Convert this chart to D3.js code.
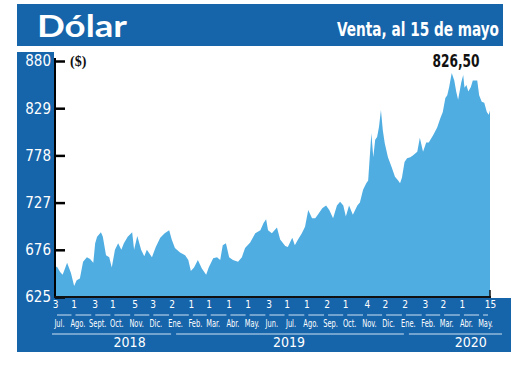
<!DOCTYPE html>
<html>
<head>
<meta charset="utf-8">
<script src="https://cdn.jsdelivr.net/npm/d3@7"></script>
<style>
  body { margin: 0; background: #fff; }
  svg { display: block; }
  text { font-family: "Liberation Sans Narrow", "DejaVu Sans Condensed", sans-serif; }
</style>
</head>
<body>
<div id="chart"></div>
<script>
const dates = [
  "2018-07-03","2018-07-06","2018-07-11","2018-07-15","2018-07-22","2018-07-23","2018-07-28",
  "2018-08-02","2018-08-06","2018-08-11","2018-08-16","2018-08-22","2018-08-27","2018-09-01",
  "2018-09-04","2018-09-07","2018-09-13","2018-09-16","2018-09-21","2018-09-26","2018-09-30",
  "2018-10-05","2018-10-10","2018-10-15","2018-10-19","2018-10-25","2018-11-01","2018-11-04",
  "2018-11-09","2018-11-15","2018-11-20","2018-11-24","2018-12-02","2018-12-08","2018-12-15",
  "2018-12-22","2018-12-29","2019-01-02","2019-01-07","2019-01-15","2019-01-23","2019-01-28",
  "2019-02-01","2019-02-06","2019-02-12","2019-02-18","2019-02-25","2019-03-01","2019-03-08",
  "2019-03-14","2019-03-19","2019-03-23","2019-03-28","2019-04-02","2019-04-08","2019-04-16",
  "2019-04-22","2019-04-27","2019-05-05","2019-05-13","2019-05-21","2019-05-26","2019-05-30",
  "2019-06-02","2019-06-08","2019-06-16","2019-06-21","2019-06-29","2019-07-03","2019-07-10",
  "2019-07-14","2019-07-19","2019-07-25","2019-07-30","2019-08-04","2019-08-10","2019-08-15",
  "2019-08-19","2019-08-26","2019-09-01","2019-09-06","2019-09-12","2019-09-18","2019-09-23",
  "2019-09-28","2019-10-02","2019-10-07","2019-10-13","2019-10-20","2019-10-24","2019-10-29",
  "2019-11-03","2019-11-06","2019-11-11","2019-11-14","2019-11-17","2019-11-20","2019-11-23",
  "2019-11-26","2019-11-29","2019-12-02","2019-12-07","2019-12-13","2019-12-18","2019-12-23",
  "2019-12-26","2019-12-29","2020-01-02","2020-01-06","2020-01-11","2020-01-15","2020-01-22",
  "2020-01-26","2020-01-31","2020-02-05","2020-02-09","2020-02-16","2020-02-22","2020-02-27",
  "2020-03-02","2020-03-06","2020-03-09","2020-03-12","2020-03-16","2020-03-20","2020-03-23",
  "2020-03-26","2020-03-31","2020-04-03","2020-04-05","2020-04-08","2020-04-11","2020-04-15",
  "2020-04-18","2020-04-25","2020-04-28","2020-05-02","2020-05-06","2020-05-10","2020-05-13",
  "2020-05-15"
];
const values = [
  656,658,652,649,662,660,651,
  637,643,645,663,668,666,662,
  683,690,695,690,670,668,657,
  676,683,676,683,690,695,676,
  691,676,669,676,668,679,689,
  694,697,687,678,673,670,665,
  653,657,665,656,649,657,667,
  668,665,681,683,668,665,663,
  668,678,684,694,697,705,709,
  697,694,700,687,680,679,689,
  681,687,694,701,719,710,710,
  714,721,724,719,710,724,728,
  724,712,724,714,724,727,741,
  748,751,802,776,795,798,809,
  827,805,791,776,765,755,751,
  748,754,771,775,776,778,782,
  797,782,792,792,800,808,818,
  825,840,843,852,867,859,847,
  838,857,865,851,854,847,852,
  859,859,843,836,835,825,822,
  826.5
];
const yTicks = [625, 676, 727, 778, 829, 880];
const dayTickDates = [
  "2018-07-03","2018-08-01","2018-09-03","2018-10-01","2018-11-05","2018-12-03",
  "2019-01-02","2019-02-01","2019-03-01","2019-04-01","2019-05-01","2019-06-03",
  "2019-07-01","2019-08-01","2019-09-02","2019-10-01","2019-11-04","2019-12-02",
  "2020-01-02","2020-02-03","2020-03-02","2020-04-01","2020-05-15"
];
const monthStarts = [
  "2018-07-01","2018-08-01","2018-09-01","2018-10-01","2018-11-01","2018-12-01",
  "2019-01-01","2019-02-01","2019-03-01","2019-04-01","2019-05-01","2019-06-01",
  "2019-07-01","2019-08-01","2019-09-01","2019-10-01","2019-11-01","2019-12-01",
  "2020-01-01","2020-02-01","2020-03-01","2020-04-01","2020-05-01"
];
const monthNames = [
  "Jul.","Ago.","Sept.","Oct.","Nov.","Dic.",
  "Ene.","Feb.","Mar.","Abr.","May.","Jun.","Jul.","Ago.","Sep.","Oct.","Nov.","Dic.",
  "Ene.","Feb.","Mar.","Abr.","May."
];
const years = ["2018", "2019", "2020"];
const yearStarts = ["2018-07-03", "2019-01-01", "2020-01-01"];
const yearEnds = ["2019-01-01", "2020-01-01", "2020-05-15"];
const yearLabelDates = ["2018-10-28", "2019-07-05", "2020-04-15"];
const lastValue = "826,50";

const parse = d3.timeParse("%Y-%m-%d");
const data = dates.map((d, i) => ({ date: parse(d), value: values[i] }));

const width = 520, height = 368;
const blue = "#1664aa", areaBlue = "#4fade2";
const plotLeft = 55, plotRight = 490, plotTop = 61, plotBottom = 297;

const svg = d3.select("#chart").append("svg")
  .attr("width", width).attr("height", height);

// panels
svg.append("rect").attr("x", 17).attr("y", 4).attr("width", 486).attr("height", 42).attr("fill", blue);
svg.append("rect").attr("x", 17).attr("y", 52).attr("width", 37).attr("height", 300).attr("fill", blue);
svg.append("rect").attr("x", 17).attr("y", 298).attr("width", 494).attr("height", 54).attr("fill", blue);

svg.append("text").attr("x", 37).attr("y", 37)
  .style("font-family", "Lato, 'Open Sans', sans-serif")
  .style("font-weight", "bold").style("font-size", "31px")
  .attr("textLength", 90).attr("lengthAdjust", "spacingAndGlyphs")
  .attr("fill", "#fff").text("Dólar");

// condensed subtitle: squeeze horizontally
svg.append("text")
  .attr("transform", "translate(499,36) scale(0.8,1)")
  .attr("text-anchor", "end")
  .style("font-size", "19px").style("font-weight", "bold")
  .attr("fill", "#fff").text("Venta, al 15 de mayo");

const x = d3.scaleTime()
  .domain([parse("2018-07-03"), parse("2020-05-15")])
  .range([plotLeft, plotRight]);

const y = d3.scaleLinear()
  .domain([625, 880])
  .range([plotBottom, plotTop]);

const area = d3.area()
  .x(d => x(d.date))
  .y0(y(625))
  .y1(d => y(d.value));

svg.append("path").datum(data)
  .attr("d", area)
  .attr("fill", areaBlue);

// y axis
const yAxis = svg.append("g")
  .attr("transform", `translate(${plotLeft},0)`)
  .call(d3.axisLeft(y).tickValues(yTicks).tickSize(-10).tickPadding(4));
yAxis.select(".domain").attr("stroke", "#000").attr("stroke-width", 2)
  .attr("d", `M0,${plotTop - 3}V${plotBottom}`);
yAxis.selectAll(".tick line").attr("stroke", "#000").attr("stroke-width", 2.5);
yAxis.selectAll(".tick text").attr("fill", "#fff")
  .style("font-size", "15px")
  .style("font-family", "'Liberation Sans Narrow', 'DejaVu Sans Condensed', sans-serif");

// bottom line
svg.append("line")
  .attr("x1", plotLeft - 1).attr("x2", plotRight + 1)
  .attr("y1", plotBottom).attr("y2", plotBottom)
  .attr("stroke", "#111").attr("stroke-width", 2);
svg.append("line")
  .attr("x1", x.range()[1]).attr("x2", x.range()[1])
  .attr("y1", plotBottom - 7).attr("y2", plotBottom)
  .attr("stroke", "#111").attr("stroke-width", 1.5);

// day labels
const dayAxis = svg.append("g")
  .attr("transform", `translate(0,${plotBottom})`)
  .call(d3.axisBottom(x).tickValues(dayTickDates.map(parse))
    .tickFormat(d3.timeFormat("%-d")).tickSize(0).tickPadding(4));
dayAxis.select(".domain").remove();
dayAxis.selectAll("text").attr("fill", "#fff")
  .style("font-size", "10px")
  .style("font-family", "'Liberation Sans Narrow', 'DejaVu Sans Condensed', sans-serif");

// month underlines and labels
const [d0, d1] = x.domain();
const months = monthStarts.map((m, i) => {
  const s = parse(m);
  const e = i + 1 < monthStarts.length ? parse(monthStarts[i + 1]) : d1;
  return { name: monthNames[i], start: s < d0 ? d0 : s, end: e };
});
svg.append("g").selectAll("line")
  .data(months).join("line")
  .attr("x1", d => x(d.start) + 2)
  .attr("x2", d => x(d.end) - 2)
  .attr("y1", 315).attr("y2", 315)
  .attr("stroke", "#cfe3f3").attr("stroke-width", 1);

svg.append("g").selectAll("text")
  .data(months).join("text")
  .attr("transform", d => `translate(${x(d3.timeDay.offset(d.start, 7))},327) scale(0.74,1)`)
  .attr("text-anchor", "middle")
  .attr("fill", "#fff")
  .style("font-size", "10px")
  .text(d => d.name);

// year underlines and labels
svg.append("g").selectAll("line")
  .data(years).join("line")
  .attr("x1", (d, i) => x(parse(yearStarts[i])) + (i === 0 ? -3 : 5))
  .attr("x2", (d, i) => x(parse(yearEnds[i])) + (i === 2 ? 12 : 0))
  .attr("y1", 334).attr("y2", 334)
  .attr("stroke", "#cfe3f3").attr("stroke-width", 1);

svg.append("g").selectAll("text")
  .data(years).join("text")
  .attr("x", (d, i) => x(parse(yearLabelDates[i])))
  .attr("y", 347)
  .attr("text-anchor", "middle")
  .attr("fill", "#fff")
  .style("font-size", "14px")
  .text(d => d);

// unit and last value
svg.append("text").attr("x", 70).attr("y", 66)
  .style("font-family", "'Liberation Serif', serif")
  .style("font-weight", "bold").style("font-size", "14px")
  .attr("fill", "#111").text("($)");

svg.append("text")
  .attr("transform", "translate(456,67) scale(0.8,1)")
  .attr("text-anchor", "middle")
  .style("font-size", "17px").style("font-weight", "bold")
  .attr("fill", "#111").text(lastValue);
</script>
</body>
</html>
